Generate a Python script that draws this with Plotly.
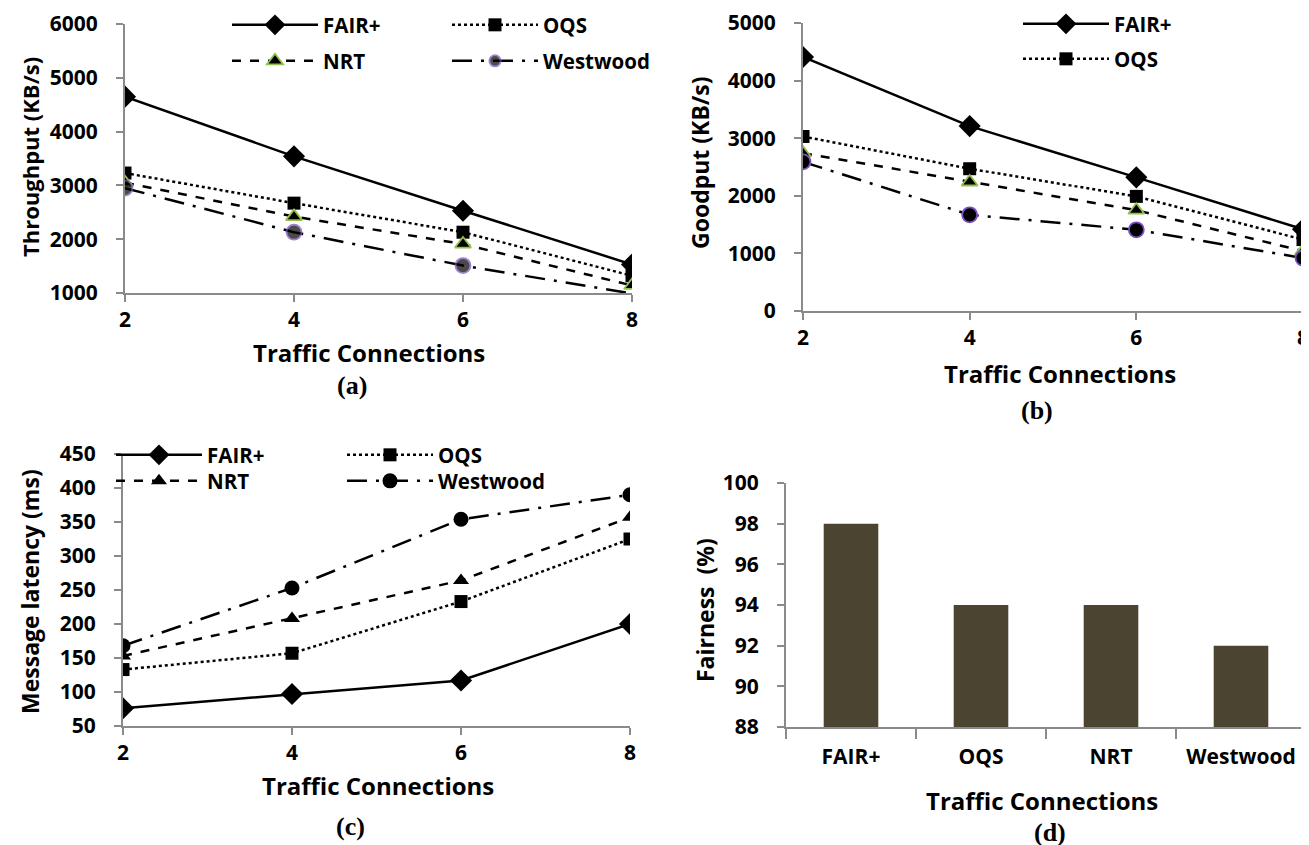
import plotly.graph_objects as go

# ---------------- data ----------------
x_conn = [2, 4, 6, 8]
series_names = ["FAIR+", "OQS", "NRT", "Westwood"]

thr_fair = [4650, 3540, 2530, 1530]
thr_oqs = [3230, 2670, 2130, 1320]
thr_nrt = [3050, 2420, 1910, 1140]
thr_west = [2950, 2130, 1510, 990]

good_fair = [4410, 3210, 2320, 1420]
good_oqs = [3030, 2470, 1990, 1240]
good_nrt = [2740, 2240, 1750, 1040]
good_west = [2590, 1670, 1410, 920]

lat_fair = [76, 97, 117, 200]
lat_oqs = [133, 157, 233, 325]
lat_nrt = [153, 208, 264, 357]
lat_west = [168, 253, 354, 390]

fair_cats = ["FAIR+", "OQS", "NRT", "Westwood"]
fairness = [98, 94, 94, 92]

# ---------------- geometry helpers ----------------
# the page body adds an 8px offset; positions below are page pixels
W, H = 1309, 845
OFF = 8
def xd(a, b):
    return [(a - OFF) / W, (b - OFF) / W]
def yd(top, bottom):
    return [1 - (bottom - OFF) / H, 1 - (top - OFF) / H]
def px(x):
    return (x - OFF) / W
def py(y):
    return 1 - (y - OFF) / H

FONT = "Open Sans"
AXIS_GRAY = "#8a8a8a"
GREEN = "#92c04a"
PURPLE = "#7b4fc0"
WEST_DASH = "20px,9px,3px,9px"

styles = {
    "FAIR+": dict(dash="solid", symbol="diamond", size=17),
    "OQS": dict(dash="dot", symbol="square", size=13),
    "NRT": dict(dash="dash", symbol="triangle-up", size=14),
    "Westwood": dict(dash=WEST_DASH, symbol="circle", size=15),
}

fig = go.Figure()

def add_line(name, xs, ys, xa, ya, legend, showlegend, colored, hide_last=False):
    st = styles[name]
    mline = dict(width=0, color="black")
    if colored and name == "NRT":
        mline = dict(width=1.8, color=GREEN)
    if colored and name == "Westwood":
        mline = dict(width=1.8, color=PURPLE)
    size = st["size"]
    if hide_last:
        size = [st["size"]] * (len(xs) - 1) + [0]
    fig.add_trace(go.Scatter(
        x=xs, y=ys, name=name, mode="lines+markers",
        xaxis=xa, yaxis=ya, legend=legend,
        showlegend=showlegend,
        line=dict(color="black", width=2.5, dash=st["dash"]),
        marker=dict(symbol=st["symbol"], size=size, color="black", line=mline),
    ))

# (a) throughput
a_vals = {"FAIR+": thr_fair, "OQS": thr_oqs, "NRT": thr_nrt, "Westwood": thr_west}
a_leg = {"FAIR+": "legend", "NRT": "legend2", "OQS": "legend3", "Westwood": "legend4"}
for n in ["FAIR+", "OQS", "NRT", "Westwood"]:
    add_line(n, x_conn, a_vals[n], "x", "y", a_leg[n], True, True, hide_last=(n == "Westwood"))

# (b) goodput
b_vals = {"FAIR+": good_fair, "OQS": good_oqs, "NRT": good_nrt, "Westwood": good_west}
b_leg = {"FAIR+": "legend5", "OQS": "legend6", "NRT": "legend5", "Westwood": "legend5"}
for n in ["FAIR+", "OQS", "NRT", "Westwood"]:
    add_line(n, x_conn, b_vals[n], "x2", "y2", b_leg[n], n in ("FAIR+", "OQS"), True)

# (c) latency
c_vals = {"FAIR+": lat_fair, "OQS": lat_oqs, "NRT": lat_nrt, "Westwood": lat_west}
c_leg = {"FAIR+": "legend7", "NRT": "legend8", "OQS": "legend9", "Westwood": "legend10"}
for n in ["FAIR+", "OQS", "NRT", "Westwood"]:
    add_line(n, x_conn, c_vals[n], "x3", "y3", c_leg[n], True, False)

# (d) fairness bars
fig.add_trace(go.Bar(
    x=fair_cats, y=fairness, xaxis="x4", yaxis="y4",
    marker=dict(color="#4b4430", line=dict(width=0)),
    showlegend=False, width=0.42,
))

tickfont = dict(family=FONT, size=21, color="black", weight="bold")

def xaxis_cfg(dom, rng=None, cat=False):
    d = dict(domain=dom, showline=True, linecolor=AXIS_GRAY, linewidth=2,
             ticks="outside", ticklen=7, tickwidth=2, tickcolor=AXIS_GRAY,
             tickfont=tickfont, showgrid=False, zeroline=False, fixedrange=True)
    if cat:
        d.update(type="category", range=[-0.5, 3.5], tickson="boundaries",
                 ticklen=10, ticklabelstandoff=10)
    else:
        d.update(range=rng, tickvals=x_conn, ticktext=[str(v) for v in x_conn])
    return d

def yaxis_cfg(dom, rng, dtick, anchor):
    return dict(domain=dom, range=rng, dtick=dtick, tick0=rng[0], anchor=anchor,
                showline=True, linecolor=AXIS_GRAY, linewidth=2,
                ticks="outside", ticklen=7, tickwidth=2, tickcolor=AXIS_GRAY,
                ticklabelstandoff=14,
                tickfont=tickfont, showgrid=False, zeroline=False, fixedrange=True)

legfont = dict(family=FONT, size=20.5, color="black", weight="bold")
def leg(x_line, y_row):
    # x_line: pixel where the legend sample line starts; y_row: pixel row centre
    return dict(x=px(x_line - 6), y=py(y_row - 19), xanchor="left", yanchor="top",
                orientation="v", bgcolor="rgba(0,0,0,0)", font=legfont,
                itemwidth=86, itemclick=False, itemdoubleclick=False)

fig.update_layout(
    width=W, height=H, autosize=False,
    margin=dict(l=0, r=0, t=0, b=0, autoexpand=False),
    paper_bgcolor="white", plot_bgcolor="white",
    xaxis=dict(xaxis_cfg(xd(125, 632), [2, 8]), anchor="y"),
    yaxis=yaxis_cfg(yd(24, 293), [1000, 6000], 1000, "x"),
    xaxis2=dict(xaxis_cfg(xd(803, 1303), [2, 8]), anchor="y2"),
    yaxis2=yaxis_cfg(yd(23, 311), [0, 5000], 1000, "x2"),
    xaxis3=dict(xaxis_cfg(xd(123, 630), [2, 8]), anchor="y3"),
    yaxis3=yaxis_cfg(yd(454, 726), [50, 450], 50, "x3"),
    xaxis4=dict(xaxis_cfg(xd(786, 1306), cat=True), anchor="y4"),
    yaxis4=yaxis_cfg(yd(483, 727), [88, 100], 2, "x4"),
    legend=leg(233, 24),
    legend2=leg(233, 60),
    legend3=leg(453, 24),
    legend4=leg(453, 60),
    legend5=leg(1024, 23),
    legend6=leg(1024, 58),
    legend7=leg(117, 454),
    legend8=leg(117, 480),
    legend9=leg(348, 454),
    legend10=leg(348, 480),
)

title_font = dict(family=FONT, size=24, color="black", weight="bold")
ytitle_font = dict(family=FONT, size=23, color="black", weight="bold")
ytitle_font_a = dict(family=FONT, size=22, color="black", weight="bold")
label_font = dict(family="Liberation Serif", size=26, color="black", weight="bold")
ann = []
def add_ann(text, x, y, font, angle=0):
    ann.append(dict(text=text, x=px(x), y=py(y), xref="paper", yref="paper",
                    showarrow=False, font=font, textangle=angle,
                    xanchor="center", yanchor="middle"))

add_ann("Traffic Connections", 369, 352, title_font)
add_ann("Throughput (KB/s)", 30, 157, ytitle_font_a, -90)
add_ann("(a)", 352, 386, label_font)
add_ann("Traffic Connections", 1060, 373, title_font)
add_ann("Goodput (KB/s)", 700, 163, ytitle_font, -90)
add_ann("(b)", 1037, 410, label_font)
add_ann("Traffic Connections", 378, 785, title_font)
add_ann("Message latency (ms)", 30, 592, ytitle_font, -90)
add_ann("(c)", 350, 826, label_font)
add_ann("Traffic Connections", 1042, 800, title_font)
add_ann("Fairness  (%)", 705, 610, ytitle_font, -90)
add_ann("(d)", 1050, 832, label_font)
fig.update_layout(annotations=ann)

fig.write_html("out.html")
